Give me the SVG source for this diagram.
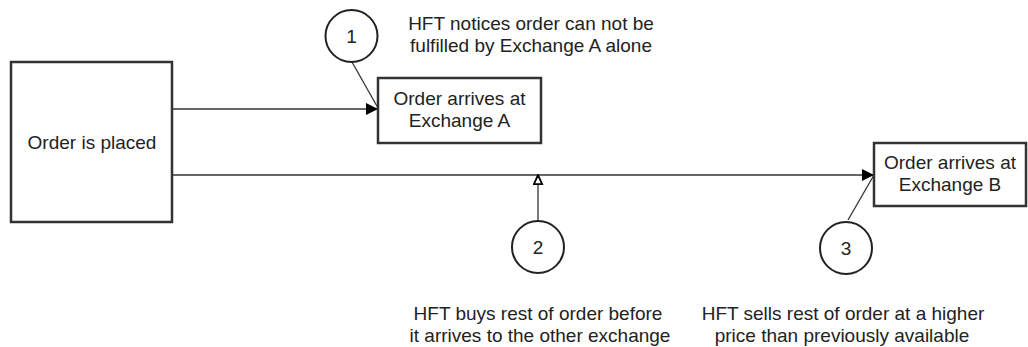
<svg xmlns="http://www.w3.org/2000/svg" width="1028" height="347" viewBox="0 0 1028 347">
<style>
text{font-family:"Liberation Sans",Arial,sans-serif;font-size:19px;fill:#222;text-anchor:middle}
.box{fill:#fff;stroke:#333;stroke-width:2.5}
.circ{fill:#fff;stroke:#222;stroke-width:2}
.ln{fill:none;stroke:#333;stroke-width:1.3}
</style>
<defs>
<marker id="fa" viewBox="0 0 12 12" refX="12" refY="6" markerWidth="12" markerHeight="12" markerUnits="userSpaceOnUse" orient="auto">
<path d="M0,0 L12,6 L0,12 Z" fill="#000"/>
</marker>
<marker id="oa" viewBox="0 0 12 12" refX="11" refY="6" markerWidth="11" markerHeight="11" markerUnits="userSpaceOnUse" orient="auto">
<path d="M1,1.5 L11,6 L1,10.5 Z" fill="#fff" stroke="#000" stroke-width="2"/>
</marker>
</defs>
<g id="connectors">
<line class="ln" x1="173" y1="109" x2="378" y2="109" marker-end="url(#fa)"/>
<line class="ln" x1="173" y1="175" x2="874" y2="175" marker-end="url(#fa)"/>
<line class="ln" x1="352" y1="62" x2="378" y2="108"/>
<line class="ln" x1="538" y1="221" x2="538" y2="175" marker-end="url(#oa)"/>
<line class="ln" x1="848" y1="220" x2="874" y2="175"/>
</g>
<g id="node-placed">
<rect class="box" x="11" y="62" width="161" height="160"/>
<text x="92" y="148.8">Order is placed</text>
</g>
<g id="node-exA">
<rect class="box" x="378" y="78" width="163" height="65"/>
<text x="459.5" y="104.8">Order arrives at</text>
<text x="459.5" y="126.8">Exchange A</text>
</g>
<g id="node-exB">
<rect class="box" x="874" y="143" width="152" height="63"/>
<text x="950" y="169">Order arrives at</text>
<text x="950" y="191">Exchange B</text>
</g>
<g id="marker-1">
<circle class="circ" cx="351.5" cy="36" r="26"/>
<text x="351.5" y="42.8">1</text>
</g>
<g id="marker-2">
<circle class="circ" cx="538" cy="247" r="26"/>
<text x="538" y="253.8">2</text>
</g>
<g id="marker-3">
<circle class="circ" cx="846" cy="248" r="26"/>
<text x="846" y="254.8">3</text>
</g>
<g id="note-1">
<text x="531" y="29.5">HFT notices order can not be</text>
<text x="531" y="51.5">fulfilled by Exchange A alone</text>
</g>
<g id="note-2">
<text x="538" y="319.5">HFT buys rest of order before</text>
<text x="540" y="341.5">it arrives to the other exchange</text>
</g>
<g id="note-3">
<text x="843" y="319.5">HFT sells rest of order at a higher</text>
<text x="842" y="341.5">price than previously available</text>
</g>
</svg>
